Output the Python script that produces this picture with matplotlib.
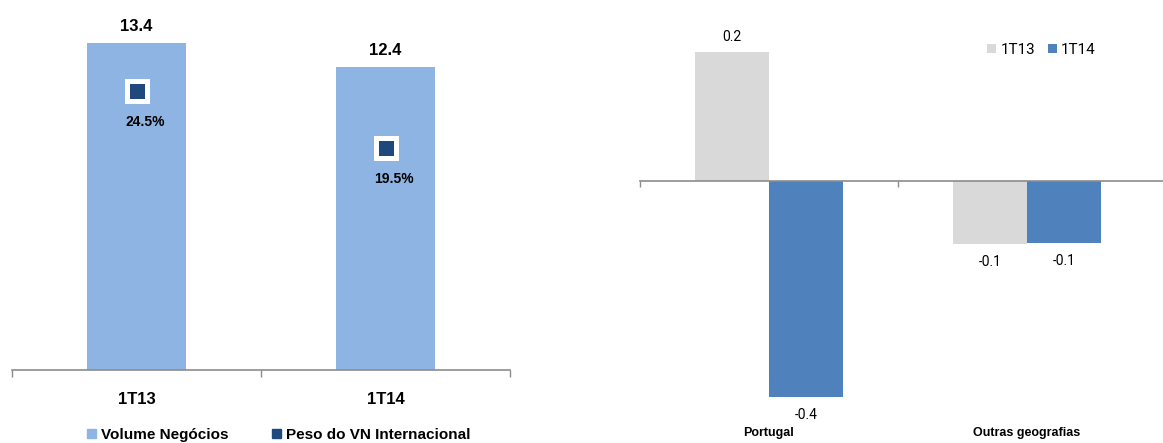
import matplotlib
matplotlib.use("Agg")
import matplotlib.pyplot as plt
from matplotlib.patches import Patch
import matplotlib.transforms as mtrans

# ---- data ----
left_categories = ["1T13", "1T14"]
volume_negocios = [13.4, 12.4]
peso_vn_internacional = [24.5, 19.5]
volume_labels = ["13.4", "12.4"]
peso_labels = ["24.5%", "19.5%"]

right_categories = ["Portugal", "Outras geografias"]
right_series_names = ["1T13", "1T14"]
right_1t13 = [0.23, -0.113]
right_1t14 = [-0.385, -0.111]
right_1t13_labels = ["0.2", "-0.1"]
right_1t14_labels = ["-0.4", "-0.1"]

W, H = 1163, 443
fig = plt.figure(figsize=(W / 100, H / 100), dpi=100)
plt.rcParams['font.family'] = ['Liberation Sans', 'DejaVu Sans']

c_vol = "#8EB4E3"
c_peso = "#1F497D"
c_gray = "#D9D9D9"
c_blue = "#4F81BD"
c_axis = "#8C8C8C"

# ---------------- left chart ----------------
axL = fig.add_axes([12 / W, (H - 370) / H, 498 / W, 370 / H])
xl = list(range(len(left_categories)))
axL.bar(xl, volume_negocios, width=0.4, color=c_vol, zorder=2)
axL.set_xlim(-0.496, 1.496)
axL.set_ylim(0, 370 / 24.4)
for s in ["top", "right", "left"]:
    axL.spines[s].set_visible(False)
axL.spines["bottom"].set_color(c_axis)
axL.spines["bottom"].set_linewidth(1.2)
axL.set_yticks([])
axL.set_xticks(xl)
axL.set_xticklabels(left_categories, fontsize=12, fontweight="bold")
axL.tick_params(axis="x", which="major", length=0, pad=16)
axL.set_xticks([-0.5, 0.5, 1.5], minor=True)
axL.tick_params(axis="x", which="minor", length=5, width=1, color=c_axis, direction="out")
for x, v, lab in zip(xl, volume_negocios, volume_labels):
    axL.annotate(lab, (x, v), xytext=(0, 12), textcoords="offset points",
                 ha="center", va="center", fontsize=12, fontweight="bold")

axL2 = axL.twinx()
axL2.set_ylim(0, 370 / 11.37)
axL2.set_yticks([])
for s in ["top", "right", "left", "bottom"]:
    axL2.spines[s].set_visible(False)
axL2.plot(xl, peso_vn_internacional, linestyle="none", marker="s", markersize=14,
          markerfacecolor=c_peso, markeredgecolor="white", markeredgewidth=3.6, zorder=3)
for x, v, lab in zip(xl, peso_vn_internacional, peso_labels):
    axL2.annotate(lab, (x, v), xytext=(6, -22), textcoords="offset points",
                  ha="center", va="center", fontsize=10, fontweight="bold")

fig.legend(handles=[Patch(color=c_vol, label="Volume Negócios"),
                    Patch(color=c_peso, label="Peso do VN Internacional")],
           loc="center left", bbox_to_anchor=(87 / W, (H - 435) / H), ncol=2,
           frameon=False, prop={"size": 11, "weight": "bold"},
           handlelength=0.6, handleheight=0.6, handletextpad=0.3,
           columnspacing=2.85, borderaxespad=0, borderpad=0)

# ---------------- right chart ----------------
s_px = 560.0
axR = fig.add_axes([640 / W, 0, (W - 640) / W, 1])
xr = list(range(len(right_categories)))
bw = 0.287
axR.bar([x - bw / 2 for x in xr], right_1t13, width=bw, color=c_gray, zorder=2,
        label=right_series_names[0])
axR.bar([x + bw / 2 for x in xr], right_1t14, width=bw, color=c_blue, zorder=2,
        label=right_series_names[1])
axR.set_xlim(-0.5, -0.5 + (W - 640) / 258)
axR.set_ylim(-(H - 181) / s_px, 181 / s_px)
for s in ["top", "right", "left"]:
    axR.spines[s].set_visible(False)
axR.spines["bottom"].set_position(("data", 0))
axR.spines["bottom"].set_color(c_axis)
axR.spines["bottom"].set_linewidth(1.2)
axR.set_yticks([])
axR.set_xticks([-0.5, 0.5])
axR.set_xticklabels([])
axR.tick_params(axis="x", length=4, width=1, color=c_axis, direction="out")
trans = mtrans.blended_transform_factory(axR.transData, axR.transAxes)
for x, lab in zip(xr, right_categories):
    axR.text(x, (H - 433) / H, lab, transform=trans, ha="center", va="center",
             fontsize=9, fontweight="bold")
for vals, labs, off in [(right_1t13, right_1t13_labels, -bw / 2),
                        (right_1t14, right_1t14_labels, bw / 2)]:
    for x, v, lab in zip(xr, vals, labs):
        dy = 11 if v >= 0 else -13
        axR.annotate(lab, (x + off, v), xytext=(0, dy), textcoords="offset points",
                     ha="center", va="center", fontsize=10, family=["Roboto", "DejaVu Sans"])

axR.legend(loc="center right", bbox_to_anchor=(1096 / W, (H - 50) / H),
           bbox_transform=fig.transFigure, ncol=2, frameon=False,
           prop={"size": 11, "family": ["Roboto", "DejaVu Sans"]},
           handlelength=0.6, handleheight=0.6, handletextpad=0.3,
           columnspacing=0.8, borderaxespad=0, borderpad=0)

fig.savefig("out.png", dpi=100)
